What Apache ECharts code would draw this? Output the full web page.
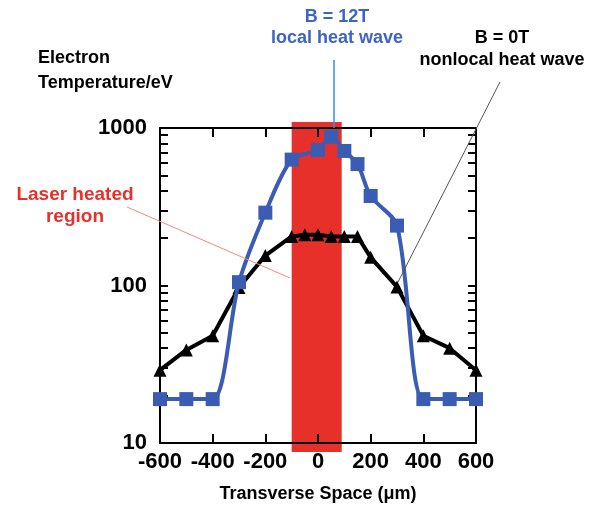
<!DOCTYPE html>
<html>
<head>
<meta charset="utf-8">
<script src="https://cdn.jsdelivr.net/npm/echarts@6/dist/echarts.min.js"></script>
<style>
  html, body { margin: 0; padding: 0; background: #fff; }
  #chart { width: 591px; height: 510px; }
</style>
</head>
<body>
<div id="chart"></div>
<script>
// transverse position (um)
const blueX = [-600, -500, -400, -300, -200, -100, 0, 50, 100, 150, 200, 300, 400, 500, 600]
// B = 12T, local heat wave (eV)
const blueY = [19, 19, 19, 105, 290, 630, 725, 880, 715, 590, 370, 240, 19, 19, 19]

const blackX = [-600, -500, -400, -300, -200, -100, -50, 0, 50, 100, 150, 200, 300, 400, 500, 600]
// B = 0T, nonlocal heat wave (eV)
const blackY = [29, 39, 48, 97, 155, 205, 210, 210, 205, 205, 205, 151, 98, 48, 40, 29]

// laser heated region, x from / to
const laserRegion = [-100, 90]

const xTicks = [-600, -400, -200, 0, 200, 400, 600]
const yTickValues = [10, 20, 30, 40, 50, 60, 70, 80, 90, 100, 200, 300, 400, 500, 600, 700, 800, 900, 1000]

const FONT = 'Liberation Sans, Arial, Helvetica, sans-serif'
const BLUE = '#3a5cb2'
const RED = '#e8302a'

const chart = echarts.init(document.getElementById('chart'))

const axisLine = { show: true, onZero: false, lineStyle: { color: '#000', width: 2 } }

const option = {
  backgroundColor: '#fff',
  animation: false,
  grid: { left: 160, right: 115, top: 128, bottom: 67 },
  xAxis: [
    {
      type: 'value',
      min: xTicks[0],
      max: xTicks[xTicks.length - 1],
      interval: 200,
      position: 'bottom',
      axisLine: axisLine,
      axisTick: { inside: true, length: 9, lineStyle: { color: '#000', width: 2 } },
      axisLabel: {
        margin: 8, color: '#000', fontSize: 22, fontWeight: 'bold', fontFamily: FONT
      },
      splitLine: { show: false },
      name: 'Transverse Space (\u03bcm)',
      nameLocation: 'middle',
      nameGap: 42,
      nameTextStyle: { color: '#000', fontSize: 18, fontWeight: 'bold', fontFamily: FONT }
    },
    {
      type: 'value',
      min: xTicks[0],
      max: xTicks[xTicks.length - 1],
      interval: 200,
      position: 'top',
      axisLine: axisLine,
      axisTick: { inside: true, length: 9, lineStyle: { color: '#000', width: 2 } },
      axisLabel: { show: false },
      splitLine: { show: false }
    }
  ],
  yAxis: [
    {
      type: 'log',
      logBase: 10,
      min: 10,
      max: 1000,
      position: 'left',
      axisLine: axisLine,
      axisTick: { inside: true, length: 8, customValues: yTickValues, lineStyle: { color: '#000', width: 2 } },
      axisLabel: {
        margin: 13, color: '#000', fontSize: 22, fontWeight: 'bold', fontFamily: FONT,
        formatter: function (v) { return String(Math.round(v)) }
      },
      splitLine: { show: false }
    },
    {
      type: 'log',
      logBase: 10,
      min: 10,
      max: 1000,
      position: 'right',
      axisLine: axisLine,
      axisTick: { inside: true, length: 8, customValues: yTickValues, lineStyle: { color: '#000', width: 2 } },
      axisLabel: { show: false },
      splitLine: { show: false }
    }
  ],
  series: [
    {
      // red band, runs a little past the frame
      type: 'custom',
      z: -1,
      clip: false,
      silent: true,
      encode: { x: [0, 1], y: [2, 3] },
      data: [[laserRegion[0], laserRegion[1], 10, 1000]],
      renderItem: function (params, api) {
        const p0 = api.coord([api.value(0), api.value(3)])
        const p1 = api.coord([api.value(1), api.value(2)])
        return {
          type: 'rect',
          shape: { x: p0[0], y: p0[1] - 6, width: p1[0] - p0[0], height: p1[1] - p0[1] + 15 },
          style: { fill: RED }
        }
      }
    },
    {
      name: 'B = 0T',
      type: 'line',
      data: blackX.map((x, i) => [x, blackY[i]]),
      symbol: 'triangle',
      symbolSize: 13,
      lineStyle: { color: '#000', width: 4 },
      itemStyle: { color: '#000' },
      z: 3
    },
    {
      name: 'B = 12T',
      type: 'line',
      data: blueX.map((x, i) => [x, blueY[i]]),
      smooth: 0.3,
      symbol: 'rect',
      symbolSize: 14,
      lineStyle: { color: BLUE, width: 4 },
      itemStyle: { color: BLUE },
      z: 4
    }
  ],
  graphic: [
    {
      type: 'text', left: 38, top: 46,
      style: { text: 'Electron\nTemperature/eV', fill: '#000', font: 'bold 18px ' + FONT, lineHeight: 25 }
    },
    {
      type: 'text', x: 337, y: 28,
      style: { text: 'B = 12T\nlocal heat wave', fill: '#3d64c2', font: 'bold 18px ' + FONT, align: 'center', verticalAlign: 'middle', lineHeight: 21 }
    },
    {
      type: 'text', x: 502, y: 49,
      style: { text: 'B = 0T\nnonlocal heat wave', fill: '#000', font: 'bold 18px ' + FONT, align: 'center', verticalAlign: 'middle', lineHeight: 22 }
    },
    {
      type: 'text', x: 75, y: 206,
      style: { text: 'Laser heated\nregion', fill: RED, font: 'bold 19px ' + FONT, align: 'center', verticalAlign: 'middle', lineHeight: 22 }
    },
    {
      type: 'line', z: 10,
      shape: { x1: 334, y1: 60, x2: 334, y2: 128 },
      style: { stroke: '#3a8ee0', lineWidth: 1.5 }
    },
    {
      type: 'line', z: 10,
      shape: { x1: 500, y1: 82, x2: 398, y2: 282 },
      style: { stroke: '#555', lineWidth: 1 }
    },
    {
      type: 'line', z: 10,
      shape: { x1: 127, y1: 207, x2: 290, y2: 278 },
      style: { stroke: '#f08a80', lineWidth: 1 }
    }
  ]
}

chart.setOption(option)
</script>
</body>
</html>
